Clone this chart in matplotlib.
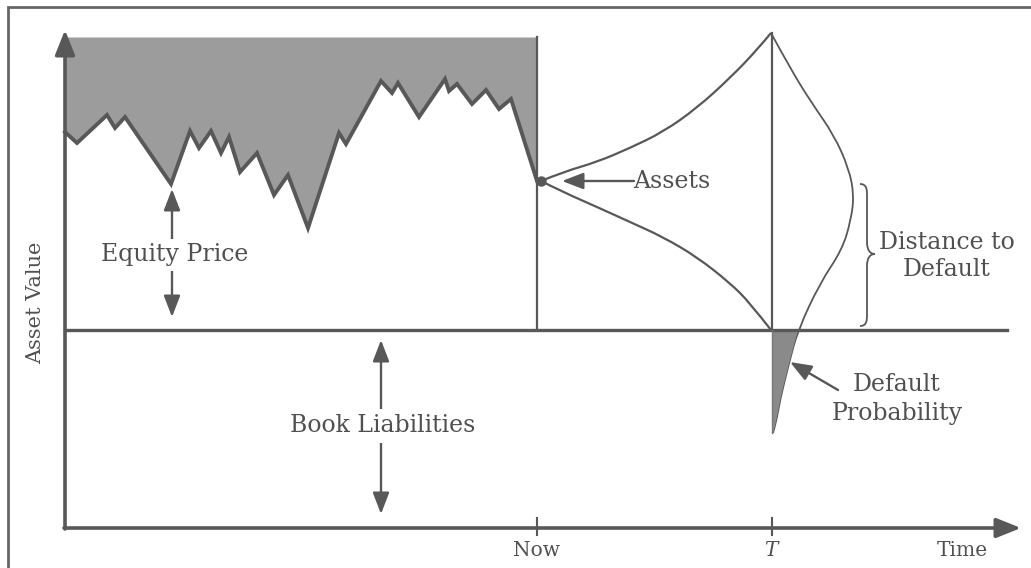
import matplotlib
matplotlib.use("Agg")
import matplotlib.pyplot as plt
from matplotlib.path import Path
from matplotlib.patches import PathPatch

# --- Data (in picture pixel units) ---
equity_x = [65, 77, 107, 115, 125, 171, 190, 199, 211, 221, 229, 240, 257, 274, 288, 308,
            339, 346, 381, 392, 398, 419, 445, 449, 457, 472, 486, 499, 511, 537]
equity_y = [132, 143, 115, 128, 117, 184, 131, 148, 131, 153, 137, 172, 153, 195, 175, 228,
            133, 144, 81, 93, 83, 117, 79, 91, 84, 104, 90, 109, 99, 181]

upper_x = [541, 563, 597, 630, 663, 697, 730, 757, 771]
upper_y = [181, 172, 162, 148, 132, 108, 78, 50, 33]
lower_x = [541, 563, 597, 630, 663, 697, 730, 750, 771]
lower_y = [181, 192, 207, 222, 237, 257, 283, 303, 330]

density_y = [33, 68, 102, 135, 169, 195, 220, 250, 283, 330, 363, 400, 423, 433]
density_x = [771, 790, 811, 834, 849, 854, 851, 842, 820, 798, 789, 780, 776, 773]

x_now = 537
x_T = 772
y_top = 37
y_liab = 330
y_axis_x = 65
x_axis_y = 528

tick_labels = ["Now", "$T$", "Time"]
tick_pos = [537, 772, 962]

# --- Style ---
line_c = "#585858"
text_c = "#505050"
fill_c = "#9c9c9c"
font = "DejaVu Serif"
plt.rcParams["mathtext.fontset"] = "dejavuserif"


def smooth_path(xs, ys):
    # quadratic segments through the segment midpoints, ends kept on the read points
    pts = list(zip(xs, ys))
    verts = [pts[0]]
    codes = [Path.MOVETO]
    for i in range(1, len(pts) - 1):
        mid = ((pts[i][0] + pts[i + 1][0]) / 2, (pts[i][1] + pts[i + 1][1]) / 2)
        if i == len(pts) - 2:
            mid = pts[-1]
        verts += [pts[i], mid]
        codes += [Path.CURVE3, Path.CURVE3]
    return Path(verts, codes)


fig = plt.figure(figsize=(10.31, 5.68), dpi=100)
ax = fig.add_axes([0, 0, 1, 1])
ax.set_xlim(0, 1031)
ax.set_ylim(568, 0)
ax.axis("off")

# outer frame (left and top only)
ax.plot([8, 8, 1031], [568, 7, 7], color="#666666", lw=2, solid_joinstyle="miter")

# equity area
ax.fill_between(equity_x, equity_y, y_top, color=fill_c, lw=0)
ax.plot(equity_x, equity_y, color=line_c, lw=2.8, solid_joinstyle="miter")
ax.plot([x_now, x_now], [y_top, y_liab], color=line_c, lw=1.6)

# axes
head = "-|>,head_length=1.5,head_width=0.6"
ax.annotate("", xy=(y_axis_x, 30), xytext=(y_axis_x, x_axis_y + 1),
            arrowprops=dict(arrowstyle=head, lw=2.6, color=line_c, shrinkA=0, shrinkB=0))
ax.annotate("", xy=(1021, x_axis_y), xytext=(y_axis_x - 1, x_axis_y),
            arrowprops=dict(arrowstyle=head, lw=2.6, color=line_c, shrinkA=0, shrinkB=0))
ax.plot([y_axis_x, 1007], [y_liab, y_liab], color=line_c, lw=2.4)

# ticks and labels on the time axis
for xp in tick_pos[:2]:
    ax.plot([xp, xp], [x_axis_y - 10, x_axis_y + 7], color=line_c, lw=1.5)
for lab, xp in zip(tick_labels, tick_pos):
    ax.text(xp, 550, lab, ha="center", va="center", fontsize=14.5, color=text_c,
            family=font)

ax.text(36, 303, "Asset Value", rotation=90, ha="center", va="center", fontsize=15,
        color=text_c, family=font)

# asset value funnel
ax.add_patch(PathPatch(smooth_path(upper_x, upper_y), fill=False, edgecolor=line_c, lw=1.6))
ax.add_patch(PathPatch(smooth_path(lower_x, lower_y), fill=False, edgecolor=line_c, lw=1.6))
ax.plot([x_T, x_T], [33, y_liab], color=line_c, lw=1.6)
ax.plot([541], [181], "o", color=line_c, ms=6.5)

# distribution at T
ax.add_patch(PathPatch(smooth_path(density_x, density_y), fill=False, edgecolor=line_c,
                       lw=1.3))
dy = [y for y in density_y if y >= y_liab]
dx = [x for x, y in zip(density_x, density_y) if y >= y_liab]
tail = smooth_path(dx, dy)
tail_verts = list(tail.vertices) + [(x_T, dy[-1]), (x_T, y_liab), (dx[0], dy[0])]
tail_codes = list(tail.codes) + [Path.LINETO, Path.LINETO, Path.CLOSEPOLY]
ax.add_patch(PathPatch(Path(tail_verts, tail_codes), facecolor="#8a8a8a",
                       edgecolor="none"))
ax.plot([x_T, x_T], [y_liab, dy[-1]], color="#777777", lw=1.0)

# labelled arrows
arrow_kw = dict(arrowstyle="-|>,head_length=1.3,head_width=0.5", lw=1.7, color=line_c,
                shrinkA=0, shrinkB=0)
ax.annotate("", xy=(562, 181), xytext=(634, 181), arrowprops=arrow_kw)
ax.text(633, 181, "Assets", ha="left", va="center", fontsize=17, color=text_c, family=font)

ax.annotate("", xy=(790, 362), xytext=(838, 390), arrowprops=arrow_kw)
ax.text(897, 399, "Default\nProbability", ha="center", va="center", fontsize=17,
        color=text_c, family=font, linespacing=1.3)

# Equity Price double arrow
ax.annotate("", xy=(172, 189), xytext=(172, 255), arrowprops=arrow_kw)
ax.annotate("", xy=(172, 317), xytext=(172, 255), arrowprops=arrow_kw)
ax.text(175, 255, "Equity Price", ha="center", va="center", fontsize=17, color=text_c,
        family=font, bbox=dict(facecolor="white", edgecolor="none", pad=3))

# Book Liabilities double arrow
ax.annotate("", xy=(381, 340), xytext=(381, 426), arrowprops=arrow_kw)
ax.annotate("", xy=(381, 514), xytext=(381, 426), arrowprops=arrow_kw)
ax.text(383, 426, "Book Liabilities", ha="center", va="center", fontsize=17,
        color=text_c, family=font, bbox=dict(facecolor="white", edgecolor="none", pad=4))

# brace for distance to default
bx, btop, bbot, btip = 867, 184, 326, 254
verts = [(bx - 7, btop), (bx, btop), (bx, btop + 6), (bx, btop + 12),
         (bx, btip - 12),
         (bx, btip - 4), (bx + 3, btip), (bx + 8, btip),
         (bx + 3, btip), (bx, btip + 4), (bx, btip + 12),
         (bx, bbot - 12),
         (bx, bbot - 6), (bx, bbot), (bx - 7, bbot)]
codes = [Path.MOVETO, Path.CURVE4, Path.CURVE4, Path.CURVE4,
         Path.LINETO,
         Path.CURVE4, Path.CURVE4, Path.CURVE4,
         Path.CURVE4, Path.CURVE4, Path.CURVE4,
         Path.LINETO,
         Path.CURVE4, Path.CURVE4, Path.CURVE4]
ax.add_patch(PathPatch(Path(verts, codes), fill=False, edgecolor=line_c, lw=1.3))
ax.text(947, 256, "Distance to\nDefault", ha="center", va="center", fontsize=17,
        color=text_c, family=font, linespacing=1.25)

fig.savefig("out.png", dpi=100, facecolor="white")
